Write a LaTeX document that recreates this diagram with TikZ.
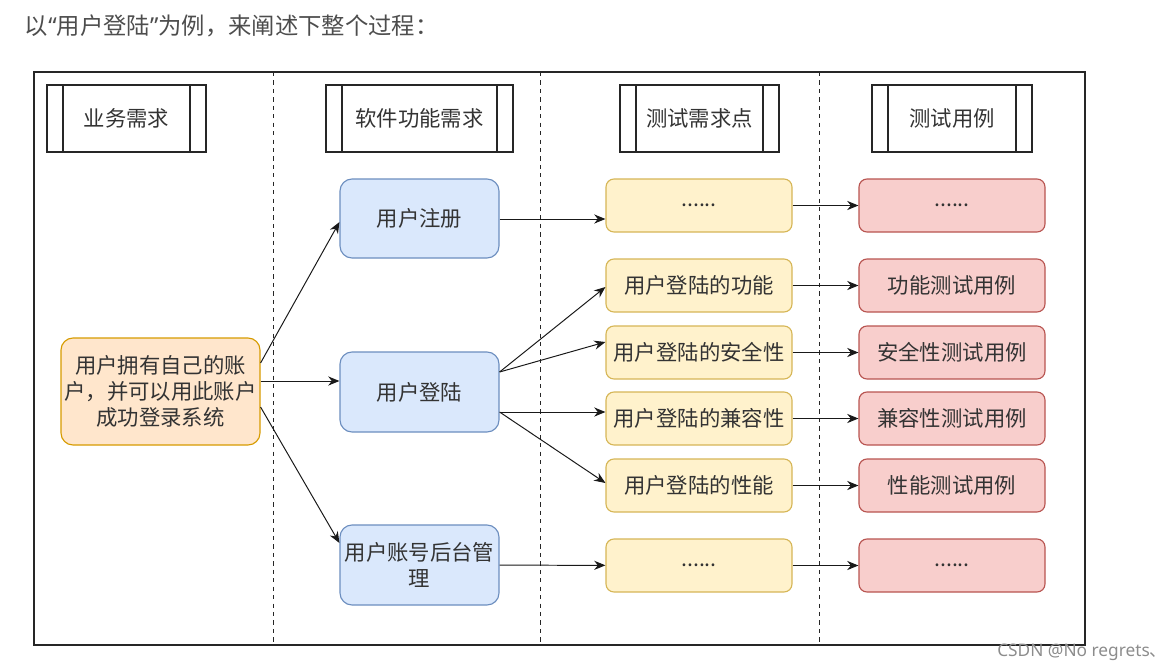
\documentclass[tikz,border=0pt]{standalone}
\usepackage{fontspec}
\setmainfont{Noto Sans CJK SC}
\newfontfamily\latinfont{Noto Sans}
\usepackage{tikz}
\usetikzlibrary{arrows.meta}
\definecolor{txtgray}{HTML}{333333}
\definecolor{titlegray}{HTML}{4D4D4D}
\definecolor{bluefill}{HTML}{DAE8FC}
\definecolor{blueline}{HTML}{6C8EBF}
\definecolor{yelfill}{HTML}{FFF2CC}
\definecolor{yelline}{HTML}{D6B656}
\definecolor{redfill}{HTML}{F8CECC}
\definecolor{redline}{HTML}{B85450}
\definecolor{orgfill}{HTML}{FFE6CC}
\definecolor{orgline}{HTML}{D79B00}

\begin{document}
\begin{tikzpicture}[x=0.025cm, y=-0.025cm,
    every node/.style={font=\fontsize{15.2}{18.4}\selectfont, text=txtgray, align=center},
    sz/.style 2 args={minimum width=#1*0.025cm, minimum height=#2*0.025cm, inner sep=0pt},
    headbox/.style={draw=black!85, line width=0.8pt,
        path picture={\draw[line width=0.8pt]
            ([xshift=0.4cm]path picture bounding box.north west) -- ([xshift=0.4cm]path picture bounding box.south west)
            ([xshift=-0.4cm]path picture bounding box.north east) -- ([xshift=-0.4cm]path picture bounding box.south east);}},
    orgbox/.style={draw=orgline, fill=orgfill, line width=0.8pt, rounded corners=0.3cm},
    bluebox/.style={draw=blueline, fill=bluefill, line width=0.8pt, rounded corners=0.3cm},
    yelbox/.style={draw=yelline, fill=yelfill, line width=0.8pt, rounded corners=0.2cm, sz={186}{53}},
    redbox/.style={draw=redline, fill=redfill, line width=0.8pt, rounded corners=0.2cm, sz={186}{53}},
    arr/.style={-{Stealth[length=8pt,width=6.5pt]}, line width=0.7pt, black!90},
    sep/.style={dashed, line width=0.7pt, black!85}]
    \useasboundingbox (0,0) rectangle (1175,671);

    \node[anchor=west, text=titlegray, font=\fontsize{16.6}{18}\selectfont] (title) at (20,26)
        {以{\latinfont“}用户登陆{\latinfont”}为例，来阐述下整个过程：};

    \draw[line width=0.8pt, black!85] (34,72) rectangle (1085,645);
    \draw[sep] (273,72) -- (273,645);
    \draw[sep] (540,72) -- (540,645);
    \draw[sep] (819,72) -- (819,645);

    \node[headbox, sz={159}{67}] (h1) at (126.5,118.5) {业务需求};
    \node[headbox, sz={187}{67}] (h2) at (419.5,118.5) {软件功能需求};
    \node[headbox, sz={159}{67}] (h3) at (699.5,118.5) {测试需求点};
    \node[headbox, sz={160}{67}] (h4) at (952,118.5) {测试用例};

    \node[orgbox, sz={199}{107}] (need) at (160.5,391.5) {用户拥有自己的账\\户，并可以用此账户\\成功登录系统};

    \node[bluebox, sz={159}{79}] (reg) at (419.5,218.5) {用户注册};
    \node[bluebox, sz={159}{80}] (login) at (419.5,392) {用户登陆};
    \node[bluebox, sz={159}{80}] (admin) at (419.5,565) {用户账号后台管\\理};

    \node[yelbox] (p0) at (699,205.5) {......};
    \node[yelbox] (p1) at (699,285.5) {用户登陆的功能};
    \node[yelbox] (p2) at (699,352.5) {用户登陆的安全性};
    \node[yelbox] (p3) at (699,418.5) {用户登陆的兼容性};
    \node[yelbox] (p4) at (699,485.5) {用户登陆的性能};
    \node[yelbox] (p5) at (699,565.5) {......};

    \node[redbox] (c0) at (952,205.5) {......};
    \node[redbox] (c1) at (952,285.5) {功能测试用例};
    \node[redbox] (c2) at (952,352.5) {安全性测试用例};
    \node[redbox] (c3) at (952,418.5) {兼容性测试用例};
    \node[redbox] (c4) at (952,485.5) {性能测试用例};
    \node[redbox] (c5) at (952,565.5) {......};

    \draw[arr] (need.east |- 0,363) -- (reg.west |- 0,222);
    \draw[arr] (need.east |- 0,381) -- (login.west |- 0,381);
    \draw[arr] (need.east |- 0,407) -- (admin.west |- 0,543);

    \draw[arr] (reg.east |- 0,219) -- (p0.west |- 0,219);
    \draw[arr] (login.east |- 0,372) -- (p1.west |- 0,287);
    \draw[arr] (login.east |- 0,372) -- (p2.west |- 0,342);
    \draw[arr] (login.east |- 0,412) -- (p3.west |- 0,412);
    \draw[arr] (login.east |- 0,412) -- (p4.west |- 0,483);
    \draw[arr] (admin) -- (p5);

    \foreach \i in {0,...,5} {
        \draw[arr] (p\i) -- (c\i);
    }

    \node[anchor=west, text=black!45, inner sep=0pt, font=\fontsize{12.3}{14}\selectfont] (mark) at (997,652) {{\latinfont CSDN @No regrets}、};
\end{tikzpicture}
\end{document}
